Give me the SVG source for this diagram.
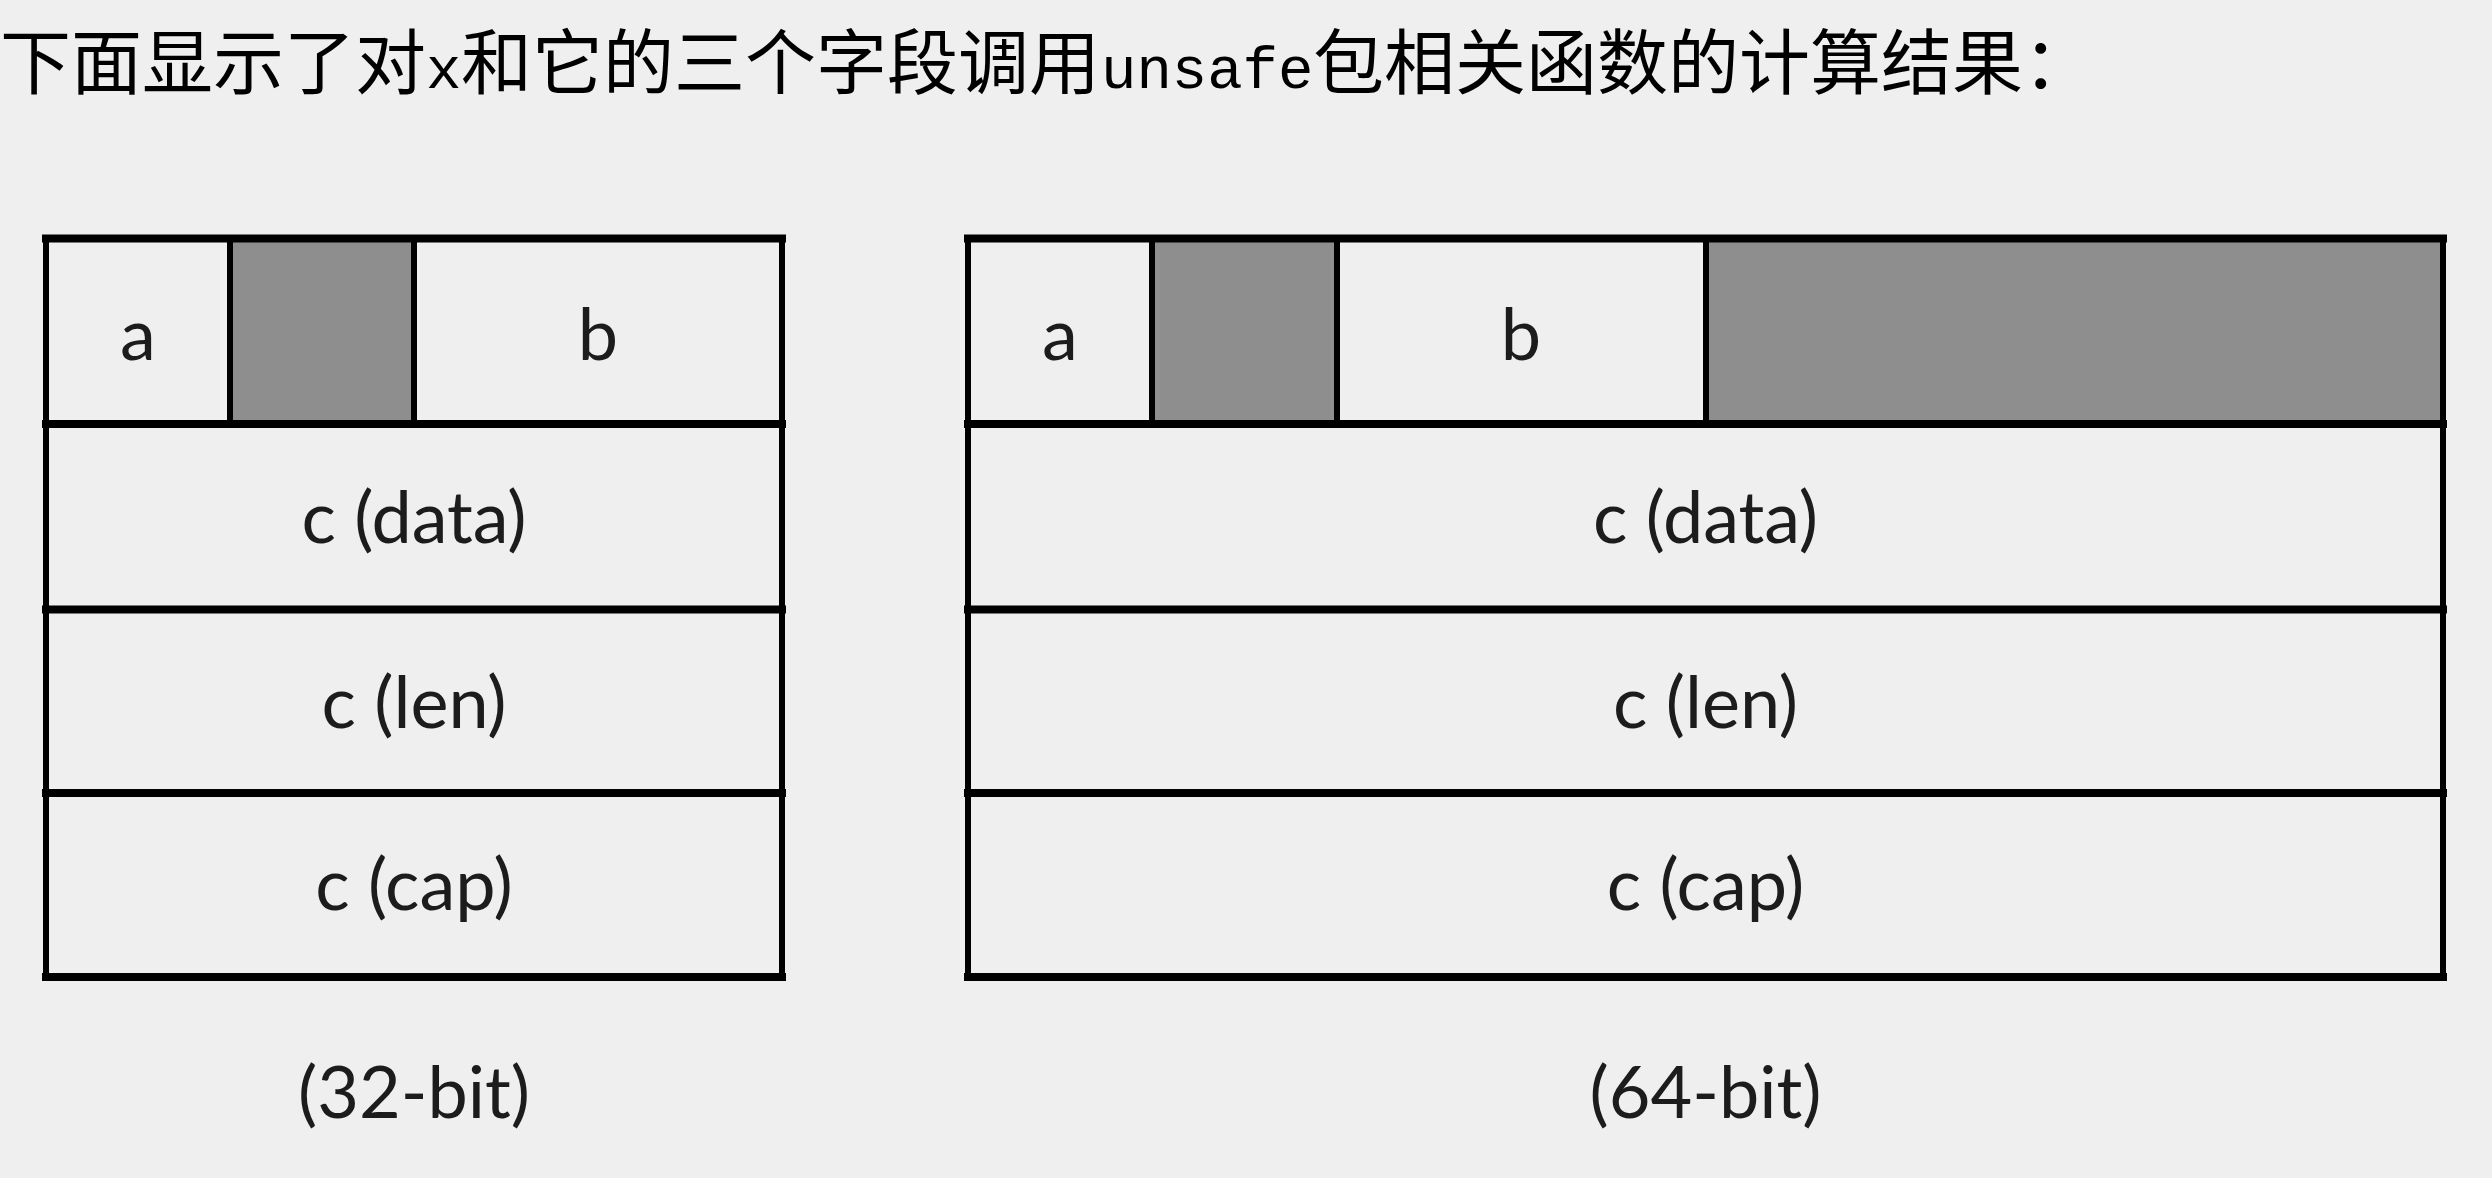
<svg xmlns="http://www.w3.org/2000/svg" width="2492" height="1178" viewBox="0 0 2492 1178">
  <style>
    .bg { fill: #efefef; }
    .cell { fill: #efefef; }
    .pad { fill: #8e8e8e; }
    .hl { stroke: #000; stroke-width: 8; fill: none; stroke-linecap: square; }
    .vl { stroke: #000; stroke-width: 6; fill: none; stroke-linecap: square; }
    .lbl { font-family: Lato, "Liberation Sans", sans-serif; font-size: 72px; fill: #1c1c1c; text-anchor: middle; }
    .title { font-family: "Noto Sans CJK SC", "Noto Sans", sans-serif; font-size: 71px; fill: #000; }
    .mono { font-family: "Liberation Mono", monospace; font-size: 59px; }
  </style>
  <rect class="bg" x="0" y="0" width="2492" height="1178"/>

  <g id="title">
    <text class="title" y="88"><tspan x="0">下面显示了对</tspan><tspan class="mono" x="426">x</tspan><tspan x="461">和它的三个字段调用</tspan><tspan class="mono" x="1101">unsafe</tspan><tspan x="1313">包相关函数的计算结果：</tspan></text>
  </g>

  <g id="struct32">
    <g id="s32-a"><rect class="cell" x="46" y="238.5" width="184" height="185.5"/><text class="lbl" x="138" y="360">a</text></g>
    <g id="s32-pad"><rect class="pad" x="230" y="238.5" width="184" height="185.5"/></g>
    <g id="s32-b"><rect class="cell" x="414" y="238.5" width="368" height="185.5"/><text class="lbl" x="598" y="360">b</text></g>
    <g id="s32-data"><rect class="cell" x="46" y="424" width="736" height="185.5"/><text class="lbl" x="414" y="543">c (data)</text></g>
    <g id="s32-len"><rect class="cell" x="46" y="609.5" width="736" height="183.5"/><text class="lbl" x="414" y="728">c (len)</text></g>
    <g id="s32-cap"><rect class="cell" x="46" y="793" width="736" height="184"/><text class="lbl" x="414" y="910">c (cap)</text></g>
    <g id="s32-lines">
      <path class="hl" d="M46 238.5H782M46 424H782M46 609.5H782M46 793H782M46 977H782"/>
      <path class="vl" d="M46 238.5V977M782 238.5V977M230 238.5V424M414 238.5V424"/>
    </g>
    <text id="s32-caption" class="lbl" x="414" y="1118">(32-bit)</text>
  </g>

  <g id="struct64">
    <g id="s64-a"><rect class="cell" x="968" y="238.5" width="184" height="185.5"/><text class="lbl" x="1060" y="360">a</text></g>
    <g id="s64-pad1"><rect class="pad" x="1152" y="238.5" width="185" height="185.5"/></g>
    <g id="s64-b"><rect class="cell" x="1337" y="238.5" width="369" height="185.5"/><text class="lbl" x="1521" y="360">b</text></g>
    <g id="s64-pad2"><rect class="pad" x="1706" y="238.5" width="737" height="185.5"/></g>
    <g id="s64-data"><rect class="cell" x="968" y="424" width="1475" height="185.5"/><text class="lbl" x="1705.5" y="543">c (data)</text></g>
    <g id="s64-len"><rect class="cell" x="968" y="609.5" width="1475" height="183.5"/><text class="lbl" x="1705.5" y="728">c (len)</text></g>
    <g id="s64-cap"><rect class="cell" x="968" y="793" width="1475" height="184"/><text class="lbl" x="1705.5" y="910">c (cap)</text></g>
    <g id="s64-lines">
      <path class="hl" d="M968 238.5H2443M968 424H2443M968 609.5H2443M968 793H2443M968 977H2443"/>
      <path class="vl" d="M968 238.5V977M2443 238.5V977M1152 238.5V424M1337 238.5V424M1706 238.5V424"/>
    </g>
    <text id="s64-caption" class="lbl" x="1705.5" y="1118">(64-bit)</text>
  </g>

  <g id="connectors"></g>
</svg>
